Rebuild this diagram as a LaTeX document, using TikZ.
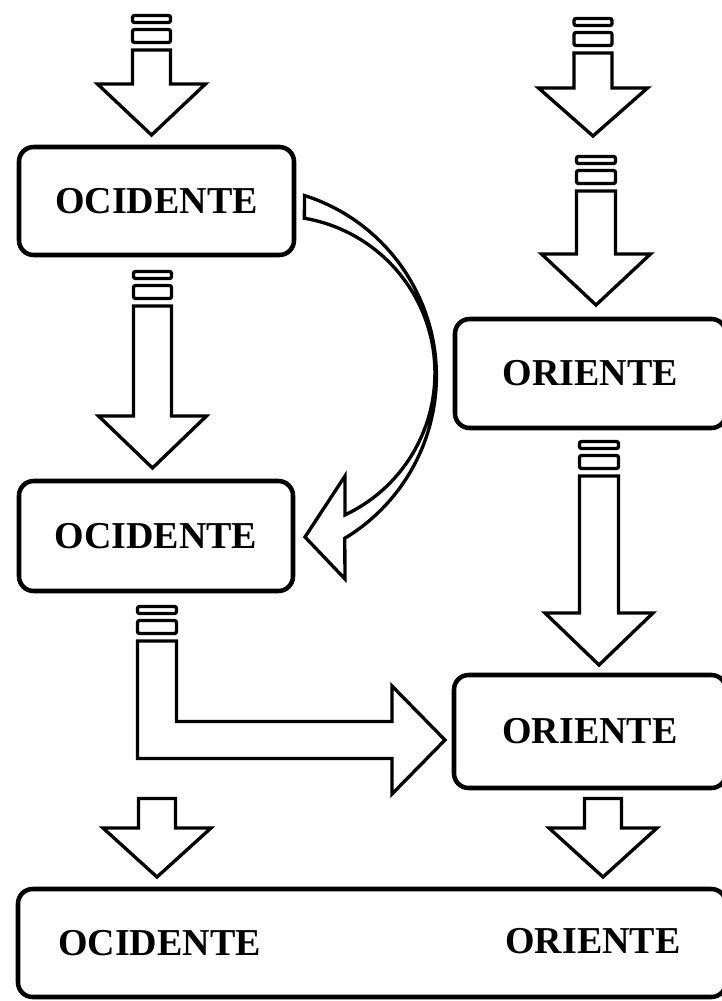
\documentclass[tikz,border=0pt]{standalone}
\usepackage{fontspec}
\setmainfont{Liberation Serif}

% hollow block arrow pointing down: centre x, shaft top, wing y, tip y, half shaft, half wing
\newcommand\downblock[6]{%
  \path[blockline] ({#1-#5},#2) -- ({#1-#5},#3) -- ({#1-#6},#3) -- (#1,#4)
    -- ({#1+#6},#3) -- ({#1+#5},#3) -- ({#1+#5},#2) -- cycle;}
% the two little bars above a block arrow: centre x, top, half width
\newcommand\stripepair[3]{%
  \path[stripebox] ({#1-#3},#2) rectangle ({#1+#3},{#2+7});
  \path[stripebox] ({#1-#3},{#2+14}) rectangle ({#1+#3},{#2+27});}

\begin{document}
\begin{tikzpicture}[x=0.75pt,y=-0.75pt,
  txt/.style={inner sep=0pt, font=\fontsize{28.5}{30}\selectfont\bfseries},
  box/.style={txt, draw, line width=3.4pt, rounded corners=11pt, fill=white},
  blockline/.style={draw, line width=2.5pt, fill=white, line join=miter},
  stripebox/.style={draw, line width=2.5pt, fill=white, rounded corners=1.5pt}]

\clip (0,0) rectangle (722,1001);
\fill[white] (0,0) rectangle (722,1001);

% boxes
\node[box, minimum width=206.25pt, minimum height=81pt] (occA) at (156.5,201) {OCIDENTE};
\node[box, minimum width=205.5pt, minimum height=82.5pt] (occB) at (156,536) {OCIDENTE};
\node[box, minimum width=203.25pt, minimum height=81.75pt] (oriA) at (590.5,373.5) {ORIENTE};
\node[box, minimum width=204pt, minimum height=84.75pt] (oriB) at (590,731.5) {ORIENTE};
\node[box, minimum width=531pt, minimum height=81pt] (both) at (372,943) {};
\node[txt] (bothOcc) at (159.5,943) {OCIDENTE};
\node[txt] (bothOri) at (593,941) {ORIENTE};

% straight arrows with bars
\stripepair{151.5}{15.5}{19}
\downblock{151.5}{50}{84}{135}{19}{54}
\stripepair{593}{18.5}{19}
\downblock{593}{53}{88}{136}{19}{54.5}
\stripepair{596}{156.5}{19.5}
\downblock{596}{191}{254}{305}{19.5}{54.5}
\stripepair{152.5}{271.5}{19}
\downblock{152.5}{306}{416}{468}{19}{54}
\stripepair{599}{441.5}{19.5}
\downblock{599}{476}{613}{665}{19.5}{54}

% plain arrows into the bottom box
\downblock{157}{798.5}{828}{877}{18.5}{54}
\downblock{603}{798.5}{828}{877}{18.5}{54}

% bent arrow from the lower OCIDENTE box to the lower ORIENTE box
\stripepair{157}{606.5}{19.5}
\path[blockline] (137.5,641) -- (137.5,758.5) -- (392,758.5) -- (392,794)
  -- (445,740) -- (392,686) -- (392,721.5) -- (176.5,721.5) -- (176.5,641) -- cycle;

% curved arrow between the two OCIDENTE boxes
\path[blockline] (304.5,195.5) arc[start angle=-72.3, end angle=58.9, radius=189.5]
  -- (345,579) -- (305,537) -- (345,476) -- (345,514.9)
  arc[start angle=64.7, end angle=-80.3, radius=157] -- cycle;

\end{tikzpicture}
\end{document}
